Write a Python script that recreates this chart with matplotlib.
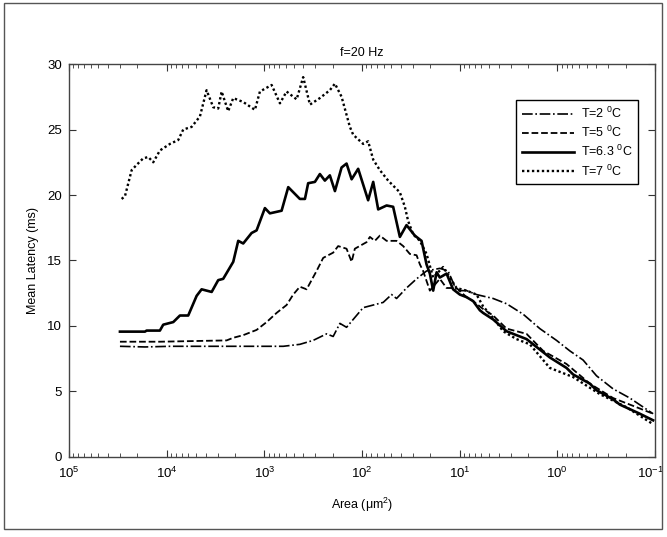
import matplotlib
matplotlib.use("Agg")
import numpy as np
import matplotlib.pyplot as plt
import matplotlib.transforms as mtrans
from matplotlib.patches import Rectangle
from matplotlib.ticker import LogLocator, NullFormatter

plt.rcParams['font.family'] = ['Liberation Sans', 'DejaVu Sans']
plt.rcParams['mathtext.fontset'] = 'custom'
plt.rcParams['mathtext.rm'] = 'Liberation Sans'
plt.rcParams['mathtext.default'] = 'regular'

# ------------------------------------------------------------
#   DATA  (x = log10 of area in um^2, y = mean latency in ms)
# ------------------------------------------------------------
t2_logx = [4.478, 4.222, 3.966, 3.659, 3.318, 3.045, 2.806, 2.636, 2.500,
           2.362, 2.295, 2.226, 2.158, 1.988, 1.885, 1.783, 1.697, 1.646,
           1.544, 1.441, 1.339, 1.203, 1.118, 1.032, 0.929, 0.827, 0.657,
           0.520, 0.350, 0.179, 0.008, -0.128, -0.264, -0.401, -0.571,
           -0.742, -0.981]
t2_lat = [8.45, 8.4, 8.45, 8.45, 8.45, 8.45, 8.45, 8.6, 8.9,
          9.4, 9.2, 10.2, 9.9, 11.4, 11.6, 11.8, 12.4, 12.1,
          12.9, 13.6, 14.2, 14.4, 14.2, 12.7, 12.7, 12.4, 12.1,
          11.7, 10.9, 9.8, 8.9, 8.1, 7.4, 6.2, 5.2,
          4.5, 3.3]

t5_logx = [4.478, 4.069, 3.386, 3.318, 3.216, 3.079, 2.976, 2.874, 2.772,
           2.704, 2.636, 2.567, 2.465, 2.397, 2.295, 2.244, 2.158, 2.106,
           2.073, 1.953, 1.919, 1.868, 1.817, 1.748, 1.646, 1.578, 1.510,
           1.441, 1.407, 1.374, 1.305, 1.203, 1.134, 1.032, 0.929, 0.862,
           0.760, 0.657, 0.520, 0.315, 0.145, -0.094, -0.333, -0.571,
           -0.845, -0.981]
t5_lat = [8.8, 8.8, 8.9, 9.1, 9.3, 9.7, 10.3, 11.0, 11.6,
          12.4, 13.0, 12.8, 14.2, 15.2, 15.6, 16.1, 15.9, 14.9,
          15.9, 16.4, 16.8, 16.5, 16.9, 16.5, 16.5, 16.1, 15.5,
          15.4, 14.7, 14.2, 12.7, 13.6, 12.9, 12.9, 12.2, 11.9,
          11.3, 10.8, 9.8, 9.4, 8.1, 7.1, 5.6, 4.5,
          3.7, 3.3]

t63_logx = [4.478, 4.222, 4.205, 4.069, 4.035, 3.932, 3.864, 3.779, 3.693,
            3.642, 3.539, 3.472, 3.421, 3.318, 3.267, 3.216, 3.130, 3.079,
            2.994, 2.943, 2.823, 2.755, 2.636, 2.584, 2.551, 2.482, 2.431,
            2.380, 2.329, 2.277, 2.209, 2.158, 2.106, 2.039, 1.937, 1.885,
            1.834, 1.748, 1.681, 1.612, 1.544, 1.459, 1.390, 1.339, 1.305,
            1.271, 1.236, 1.203, 1.134, 1.067, 0.998, 0.929, 0.862, 0.793,
            0.760, 0.657, 0.520, 0.418, 0.315, 0.179, 0.077, -0.094, -0.162,
            -0.333, -0.401, -0.571, -0.640, -0.845, -0.981]
t63_lat = [9.57, 9.57, 9.65, 9.65, 10.1, 10.3, 10.8, 10.8, 12.3,
           12.8, 12.6, 13.5, 13.6, 14.9, 16.5, 16.3, 17.1, 17.3,
           19.0, 18.6, 18.8, 20.6, 19.7, 19.7, 20.9, 21.0, 21.6,
           21.1, 21.5, 20.3, 22.1, 22.4, 21.2, 22.0, 19.6, 21.0,
           18.9, 19.2, 19.1, 16.8, 17.7, 16.9, 16.5, 14.7, 14.0,
           12.7, 14.1, 13.7, 14.0, 12.8, 12.4, 12.2, 11.9, 11.2,
           11.0, 10.5, 9.6, 9.3, 9.0, 8.2, 7.6, 6.8, 6.3,
           5.6, 5.1, 4.4, 4.0, 3.3, 2.8]

t7_logx = [4.461, 4.427, 4.358, 4.307, 4.240, 4.188, 4.137, 4.069, 3.966,
           3.881, 3.830, 3.744, 3.659, 3.591, 3.523, 3.472, 3.437, 3.370,
           3.318, 3.216, 3.096, 3.045, 2.925, 2.840, 2.772, 2.669, 2.602,
           2.533, 2.431, 2.329, 2.277, 2.209, 2.124, 2.090, 1.988, 1.937,
           1.885, 1.817, 1.732, 1.612, 1.561, 1.527, 1.476, 1.407, 1.339,
           1.271, 1.169, 1.100, 1.032, 0.929, 0.827, 0.760, 0.655, 0.555,
           0.418, 0.281, 0.077, -0.162, -0.435, -0.708, -0.981]
t7_lat = [19.7, 19.9, 21.9, 22.3, 22.8, 22.9, 22.5, 23.4, 23.9,
          24.2, 25.0, 25.2, 26.0, 28.0, 26.7, 26.6, 27.9, 26.4,
          27.4, 27.1, 26.5, 27.9, 28.4, 27.0, 27.9, 27.3, 29.0,
          26.9, 27.4, 28.0, 28.5, 27.5, 25.2, 24.6, 23.9, 24.1,
          22.7, 21.9, 21.1, 20.2, 19.1, 18.0, 17.0, 16.5, 15.5,
          13.7, 14.5, 13.7, 12.9, 12.7, 12.4, 11.5, 10.6, 9.6,
          9.0, 8.6, 6.8, 6.1, 4.8, 3.8, 2.5]

labels = ['T=2 $^{0}$C', 'T=5 $^{0}$C', 'T=6.3 $^{0}$C', 'T=7 $^{0}$C']
x_major = [1e5, 1e4, 1e3, 1e2, 1e1, 1e0, 1e-1]
x_major_labels = ['$10^{5}$', '$10^{4}$', '$10^{3}$', '$10^{2}$',
                  '$10^{1}$', '$10^{0}$', '$10^{-1}$']

# ------------------------------------------------------------
#   PLOT
# ------------------------------------------------------------
fig = plt.figure(figsize=(6.67, 5.37), dpi=100)
ax = fig.add_axes([0.1034, 0.149, 0.8786, 0.7318])

ax.plot(10 ** np.array(t2_logx), t2_lat, color='black', linestyle='-.', lw=1.2, label=labels[0])
ax.plot(10 ** np.array(t5_logx), t5_lat, color='black', linestyle='--', lw=1.3, label=labels[1])
ax.plot(10 ** np.array(t63_logx), t63_lat, color='black', linestyle='-', lw=1.9, label=labels[2])
ax.plot(10 ** np.array(t7_logx), t7_lat, color='black', linestyle=(0, (1, 1.1)), lw=1.7,
        label=labels[3])

ax.set_xscale('log')
ax.set_xlim(1e5, 1e-1)
ax.set_ylim(0, 30)
ax.set_yticks([0, 5, 10, 15, 20, 25, 30])
ax.set_xticks(x_major)
ax.set_xticklabels(x_major_labels)
ax.xaxis.set_minor_locator(LogLocator(base=10, subs=np.arange(2, 10), numticks=20))
ax.xaxis.set_minor_formatter(NullFormatter())

ax.tick_params(which='both', direction='in', top=True, right=True,
               labelsize=9.5, color='#333333')
ax.tick_params(axis='x', which='major', pad=6)
ax.tick_params(axis='y', which='major', pad=5)
ax.tick_params(which='major', length=5)
ax.tick_params(which='minor', length=3)
for sp in ax.spines.values():
    sp.set_color('#444444')
    sp.set_linewidth(1.0)

# keep the last label inside the figure, like the original
last = ax.get_xticklabels()[-1]
last.set_transform(last.get_transform() + mtrans.ScaledTranslation(-4 / 100, 0, fig.dpi_scale_trans))

ax.set_title('f=20 Hz', fontsize=9, pad=6)
ax.set_xlabel('Area (\u03bcm$^2$)', fontsize=9, labelpad=11)
ax.set_ylabel('Mean Latency (ms)', fontsize=9, labelpad=6)

leg = ax.legend(loc='upper right', bbox_to_anchor=(0.971, 0.908), fontsize=9,
                fancybox=False, edgecolor='black', framealpha=1,
                handlelength=4.2, borderpad=0.45, labelspacing=0.32,
                handletextpad=0.5, borderaxespad=0)
leg.get_frame().set_linewidth(1.0)

# outer border like the original figure window
fig.patches.append(Rectangle((0.006, 0.0149), 0.9865, 0.9795, transform=fig.transFigure,
                             fill=False, edgecolor='#555555', lw=1.0))

fig.savefig('out.png', dpi=100)
